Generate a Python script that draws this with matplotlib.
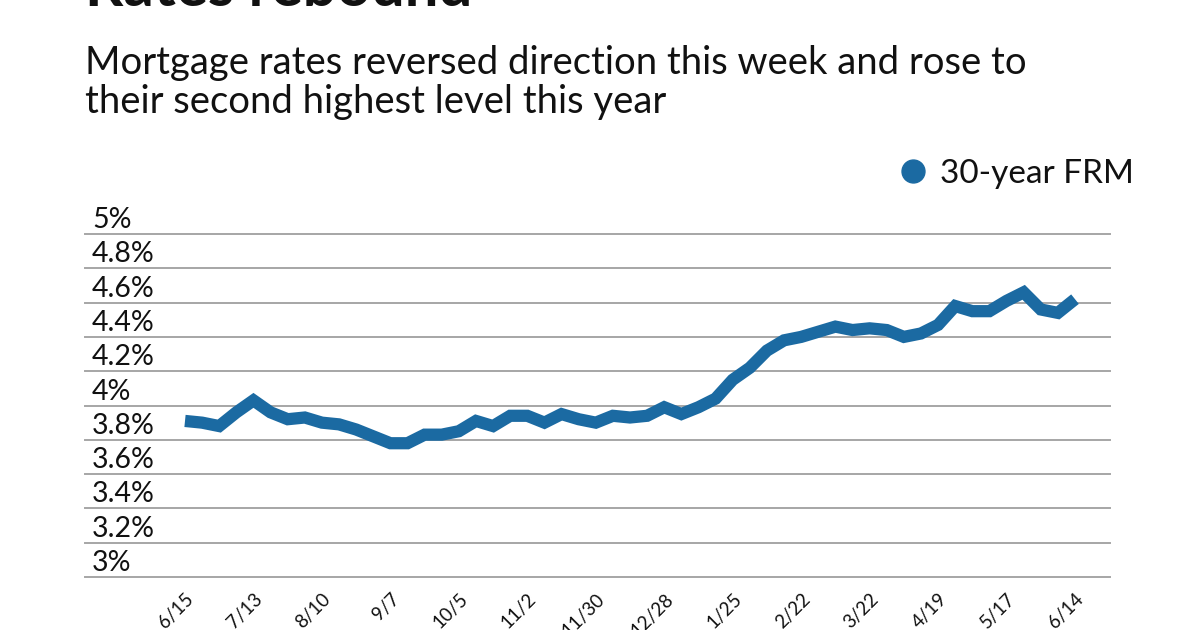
import matplotlib
matplotlib.use("Agg")
import matplotlib.pyplot as plt
import matplotlib.transforms as mtransforms
from matplotlib.lines import Line2D

plt.rcParams['font.family'] = ['Lato', 'DejaVu Sans']

title = "Rates rebound"
subtitle_lines = ["Mortgage rates reversed direction this week and rose to",
                  "their second highest level this year"]
series_name = "30-year FRM"

rates = [3.91, 3.90, 3.88, 3.96, 4.03, 3.96, 3.92, 3.93, 3.90, 3.89, 3.86, 3.82,
         3.78, 3.78, 3.83, 3.83, 3.85, 3.91, 3.88, 3.94, 3.94, 3.90, 3.95, 3.92,
         3.90, 3.94, 3.93, 3.94, 3.99, 3.95, 3.99, 4.04, 4.15, 4.22, 4.32, 4.38,
         4.40, 4.43, 4.46, 4.44, 4.45, 4.44, 4.40, 4.42, 4.47, 4.58, 4.55, 4.55,
         4.61, 4.66, 4.56, 4.54, 4.62]
tick_labels = ["6/15", "7/13", "8/10", "9/7", "10/5", "11/2", "11/30", "12/28",
               "1/25", "2/22", "3/22", "4/19", "5/17", "6/14"]
tick_every = 4
y_ticks = [3.0, 3.2, 3.4, 3.6, 3.8, 4.0, 4.2, 4.4, 4.6, 4.8, 5.0]
y_labels = ["3%", "3.2%", "3.4%", "3.6%", "3.8%", "4%", "4.2%", "4.4%", "4.6%", "4.8%", "5%"]

LINE_COLOR = "#1b6aa2"
GRID_COLOR = "#a6a6a6"

W, H = 1200, 630
fig = plt.figure(figsize=(W / 100, H / 100), dpi=100)

left_px, right_px = 85, 1110
top_px, bottom_px = 234, 577
ax = fig.add_axes([left_px / W, 1 - bottom_px / H,
                   (right_px - left_px) / W, (bottom_px - top_px) / H])

x = list(range(len(rates)))
ax.plot(x, rates, color=LINE_COLOR, lw=8.8, solid_joinstyle='miter',
        solid_capstyle='butt', zorder=3)

first_px, last_px = 185, 1075
per = (last_px - first_px) / (len(rates) - 1)
ax.set_xlim(-(first_px - left_px) / per, (len(rates) - 1) + (right_px - last_px) / per)
ax.set_ylim(3.0, 5.0)

for v in y_ticks:
    ax.axhline(v, color=GRID_COLOR, lw=1.4, zorder=1, clip_on=False)

ax.set_yticks([])
for s in ax.spines.values():
    s.set_visible(False)

ylab_tr = mtransforms.blended_transform_factory(ax.transAxes, ax.transData) + \
    mtransforms.ScaledTranslation(0, 6 / 100, fig.dpi_scale_trans)
for v, lab in zip(y_ticks, y_labels):
    ax.text(7 / (right_px - left_px), v, lab, transform=ylab_tr, ha='left',
            va='baseline', fontsize=20.5, color='#111111', clip_on=False)

ticks = list(range(0, len(rates), tick_every))
ax.set_xticks(ticks)
ax.set_xticklabels(tick_labels, rotation=45, ha='right', va='center',
                   rotation_mode='anchor', fontsize=13.5, color='#111111')
ax.tick_params(axis='x', length=0, pad=14)
offset = mtransforms.ScaledTranslation(6 / 100, 0, fig.dpi_scale_trans)
for lbl in ax.get_xticklabels():
    lbl.set_transform(lbl.get_transform() + offset)

fig.text(85 / W, 1 - 6 / H, title, fontsize=43, fontweight='bold',
         ha='left', va='baseline', color='#111111')
fig.text(85 / W, 1 - 74 / H, subtitle_lines[0], fontsize=27.5,
         ha='left', va='baseline', color='#111111')
fig.text(85 / W, 1 - 113 / H, subtitle_lines[1], fontsize=27.5,
         ha='left', va='baseline', color='#111111')

handle = Line2D([], [], marker='o', ls='', color=LINE_COLOR, markersize=16.5)
leg = fig.legend([handle], [series_name], loc='center right',
                 bbox_to_anchor=(1134 / W, 1 - 174 / H), frameon=False,
                 fontsize=24, handletextpad=0.35, borderpad=0, borderaxespad=0,
                 handlelength=0.9)
for t in leg.get_texts():
    t.set_color('#111111')

fig.savefig("out.png", dpi=100)
